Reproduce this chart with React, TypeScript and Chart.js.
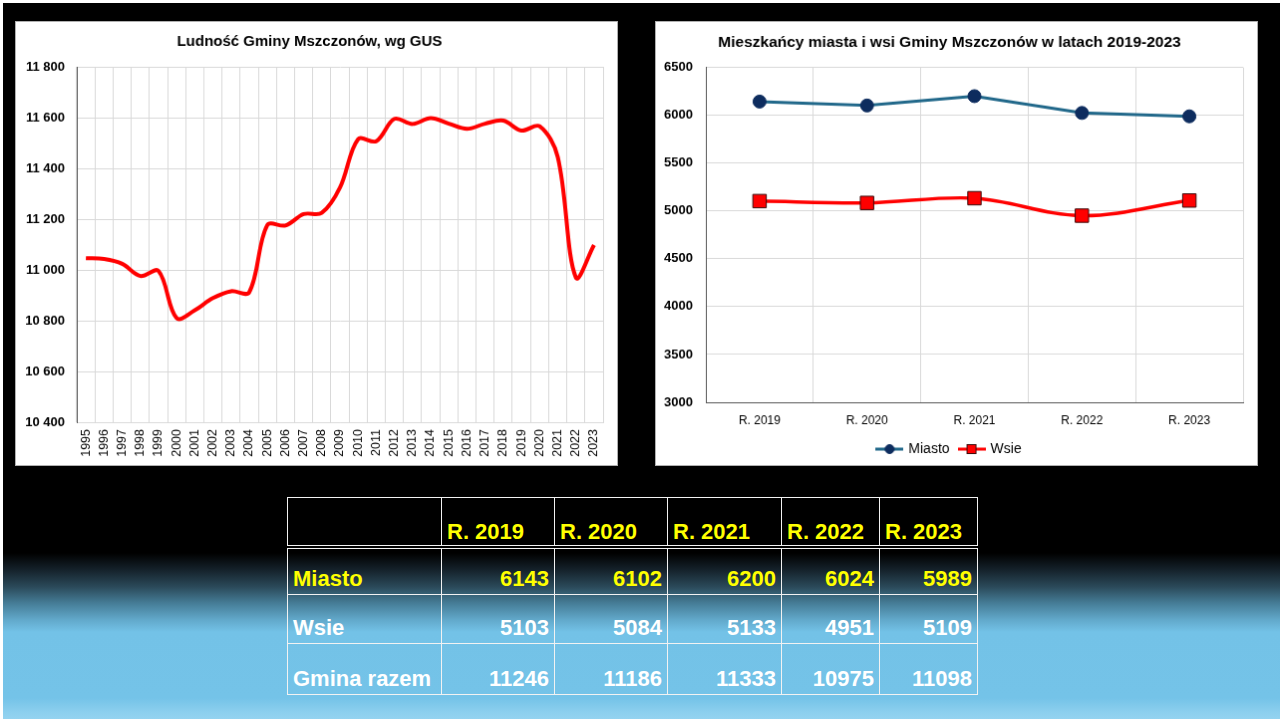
import React, { useEffect, useRef } from "react";
import { Chart, registerables } from "chart.js";

Chart.register(...registerables);

const FONT = '"Liberation Sans", Arial, sans-serif';

// Left chart: Ludność Gminy Mszczonów, wg GUS
const years = [
  "1995", "1996", "1997", "1998", "1999", "2000", "2001", "2002", "2003", "2004",
  "2005", "2006", "2007", "2008", "2009", "2010", "2011", "2012", "2013", "2014",
  "2015", "2016", "2017", "2018", "2019", "2020", "2021", "2022", "2023",
];
const population = [
  11046, 11043, 11024, 10976, 10996, 10810, 10841, 10889, 10916, 10912,
  11177, 11175, 11220, 11225, 11324, 11515, 11507, 11595, 11575, 11598,
  11576, 11556, 11576, 11588, 11549, 11566, 11445, 10970, 11098,
];
const leftTitle = "Ludność Gminy Mszczonów, wg GUS";
const leftMin = 10400;
const leftMax = 11800;
const leftStep = 200;

// Right chart: Mieszkańcy miasta i wsi
const periods = ["R. 2019", "R. 2020", "R. 2021", "R. 2022", "R. 2023"];
const miasto = [6143, 6102, 6200, 6024, 5989];
const wsie = [5103, 5084, 5133, 4951, 5109];
const gminaRazem = [11246, 11186, 11333, 10975, 11098];
const rightTitle = "Mieszkańcy miasta i wsi Gminy Mszczonów w latach 2019-2023";
const rightMin = 3000;
const rightMax = 6500;
const rightStep = 500;

const rowLabels = ["Miasto", "Wsie", "Gmina razem"];

const MIASTO_LINE = "#21688A";
const MIASTO_MARK = "#0D2C5E";
const WSIE_LINE = "#FF0000";
const WSIE_EDGE = "#3A0A0A";
const GRID = "#D9D9D9";
const AXIS = "#595959";

const spaced = (v: number | string) =>
  String(v).replace(/\B(?=(\d{3})+(?!\d))/g, " ");

function legendImage(kind: "circle" | "rect", line: string, fill: string, edge: string) {
  const c = document.createElement("canvas");
  c.width = 28;
  c.height = 14;
  const ctx = c.getContext("2d")!;
  ctx.strokeStyle = line;
  ctx.lineWidth = 3;
  ctx.beginPath();
  ctx.moveTo(0, 7);
  ctx.lineTo(28, 7);
  ctx.stroke();
  ctx.fillStyle = fill;
  ctx.strokeStyle = edge;
  ctx.lineWidth = 1;
  if (kind === "circle") {
    ctx.beginPath();
    ctx.arc(14, 7, 4.5, 0, Math.PI * 2);
    ctx.fill();
    ctx.stroke();
  } else {
    ctx.fillRect(9.5, 2.5, 9, 9);
    ctx.strokeRect(9.5, 2.5, 9, 9);
  }
  return c;
}

function LeftChart() {
  const ref = useRef<HTMLCanvasElement | null>(null);
  useEffect(() => {
    const chart = new Chart(ref.current!, {
      type: "line",
      data: {
        labels: years,
        datasets: [
          {
            label: "Ludność",
            data: population,
            borderColor: "#FF0000",
            borderWidth: 4,
            pointRadius: 0,
            tension: 0.35,
            fill: false,
          },
        ],
      },
      options: {
        responsive: false,
        animation: false,
        layout: { padding: { top: 0, right: 14, bottom: 0, left: 0 } },
        plugins: {
          legend: { display: false },
          tooltip: { enabled: false },
          title: {
            display: true,
            text: leftTitle,
            color: "#000",
            font: { family: FONT, size: 15, weight: "bold" },
            padding: { top: 11, bottom: 16 },
          },
        },
        scales: {
          x: {
            type: "category",
            offset: true,
            grid: { offset: true, color: GRID, lineWidth: 1, drawTicks: false },
            border: { color: GRID, width: 1 },
            ticks: {
              autoSkip: false,
              minRotation: 90,
              maxRotation: 90,
              padding: 7,
              color: "#000",
              font: { family: FONT, size: 12.5 },
            },
            afterFit: (s: any) => {
              s.height = 43;
            },
          },
          y: {
            min: leftMin,
            max: leftMax,
            grid: { color: GRID, lineWidth: 1, drawTicks: false },
            border: { color: AXIS, width: 1 },
            ticks: {
              stepSize: leftStep,
              padding: 12,
              color: "#000",
              font: { family: FONT, size: 13, weight: "bold" },
              callback: (v: any) => spaced(v),
            },
            afterFit: (s: any) => {
              s.width = 61;
            },
          },
        },
      },
    });
    return () => chart.destroy();
  }, []);
  return (
    <canvas
      ref={ref}
      width={603}
      height={445}
      style={{
        position: "absolute",
        left: 15,
        top: 21,
        border: "1px solid #B0B0B0",
        background: "#fff",
      }}
    />
  );
}

function RightChart() {
  const ref = useRef<HTMLCanvasElement | null>(null);
  useEffect(() => {
    const imgMiasto = legendImage("circle", MIASTO_LINE, MIASTO_MARK, MIASTO_MARK);
    const imgWsie = legendImage("rect", WSIE_LINE, WSIE_LINE, WSIE_EDGE);
    const chart = new Chart(ref.current!, {
      type: "line",
      data: {
        labels: periods,
        datasets: [
          {
            label: "Miasto",
            data: miasto,
            borderColor: MIASTO_LINE,
            borderWidth: 3,
            tension: 0,
            pointStyle: "circle",
            pointRadius: 6.5,
            pointBackgroundColor: MIASTO_MARK,
            pointBorderColor: MIASTO_MARK,
            pointBorderWidth: 1,
          },
          {
            label: "Wsie",
            data: wsie,
            borderColor: WSIE_LINE,
            borderWidth: 3.5,
            tension: 0.35,
            pointStyle: "rect",
            pointRadius: 9.5,
            pointBackgroundColor: WSIE_LINE,
            pointBorderColor: WSIE_EDGE,
            pointBorderWidth: 1,
          },
        ],
      },
      options: {
        responsive: false,
        animation: false,
        layout: { padding: { top: 0, right: 14, bottom: -1, left: 0 } },
        plugins: {
          tooltip: { enabled: false },
          title: {
            display: true,
            text: rightTitle,
            color: "#000",
            font: { family: FONT, size: 15.5, weight: "bold" },
            padding: { top: 11, bottom: 16 },
          },
          legend: {
            position: "bottom",
            labels: {
              usePointStyle: true,
              pointStyleWidth: 24,
              padding: 10,
              color: "#000",
              font: { family: FONT, size: 14 },
              generateLabels: () => [
                {
                  text: "Miasto",
                  pointStyle: imgMiasto as any,
                  fillStyle: MIASTO_MARK,
                  strokeStyle: MIASTO_LINE,
                  lineWidth: 0,
                  hidden: false,
                  datasetIndex: 0,
                },
                {
                  text: "Wsie",
                  pointStyle: imgWsie as any,
                  fillStyle: WSIE_LINE,
                  strokeStyle: WSIE_LINE,
                  lineWidth: 0,
                  hidden: false,
                  datasetIndex: 1,
                },
              ],
            },
          },
        },
        scales: {
          x: {
            type: "category",
            offset: true,
            grid: { offset: true, color: GRID, lineWidth: 1, drawTicks: false },
            border: { color: AXIS, width: 1 },
            ticks: {
              padding: 11.5,
              color: "#000",
              font: { family: FONT, size: 12 },
            },
            afterFit: (s: any) => {
              s.height = 30;
            },
          },
          y: {
            min: rightMin,
            max: rightMax,
            grid: { color: GRID, lineWidth: 1, drawTicks: false },
            border: { color: AXIS, width: 1 },
            ticks: {
              stepSize: rightStep,
              padding: 13,
              color: "#000",
              font: { family: FONT, size: 13, weight: "bold" },
              callback: (v: any) => String(v),
            },
            afterFit: (s: any) => {
              s.width = 50;
            },
          },
        },
      },
    });
    return () => chart.destroy();
  }, []);
  return (
    <canvas
      ref={ref}
      width={603}
      height={445}
      style={{
        position: "absolute",
        left: 655,
        top: 21,
        border: "1px solid #B0B0B0",
        background: "#fff",
      }}
    />
  );
}

function DataTable() {
  const colW = [154, 113, 113, 114, 98, 98];
  const cellBase: React.CSSProperties = {
    border: "1.5px solid #F2F2F2",
    padding: "0 5px 4px 5px",
    verticalAlign: "bottom",
    fontFamily: FONT,
    fontWeight: "bold",
    fontSize: 22,
    lineHeight: "22px",
    whiteSpace: "nowrap",
    overflow: "hidden",
  };
  const rows = [miasto, wsie, gminaRazem];
  const rowH = [48, 49, 51];
  return (
    <table
      style={{
        position: "absolute",
        left: 287,
        top: 497,
        borderCollapse: "collapse",
        tableLayout: "fixed",
        width: 690,
      }}
    >
      <colgroup>
        {colW.map((w, i) => (
          <col key={i} style={{ width: w }} />
        ))}
      </colgroup>
      <tbody>
        <tr style={{ height: 49 }}>
          <td style={{ ...cellBase, borderBottom: "4px double #F2F2F2" }}></td>
          {periods.map((p) => (
            <td
              key={p}
              style={{
                ...cellBase,
                color: "#FFFF00",
                textAlign: "left",
                paddingBottom: 2,
                borderBottom: "4px double #F2F2F2",
              }}
            >
              {p}
            </td>
          ))}
        </tr>
        {rows.map((vals, r) => {
          const color = r === 0 ? "#FFFF00" : "#FFFFFF";
          return (
            <tr key={r} style={{ height: rowH[r] }}>
              <td style={{ ...cellBase, color, textAlign: "left" }}>{rowLabels[r]}</td>
              {vals.map((v, i) => (
                <td key={i} style={{ ...cellBase, color, textAlign: "right" }}>
                  {v}
                </td>
              ))}
            </tr>
          );
        })}
      </tbody>
    </table>
  );
}

export default function App() {
  return (
    <div
      style={{
        position: "absolute",
        left: 0,
        top: 0,
        width: 1283,
        height: 719,
        background: "#FFFFFF",
        overflow: "hidden",
      }}
    >
      <div
        style={{
          position: "absolute",
          left: 3,
          top: 3,
          width: 1277,
          height: 716,
          background:
            "linear-gradient(to bottom, #000000 0px, #000000 550px, #15222B 567px, #2B4A5A 584px, #457C96 600px, #62A9CB 617px, #73C2E7 629px, #74C3E8 695px, #8CCFEE 709px, #94D3F0 716px)",
        }}
      />
      <LeftChart />
      <RightChart />
      <DataTable />
    </div>
  );
}
